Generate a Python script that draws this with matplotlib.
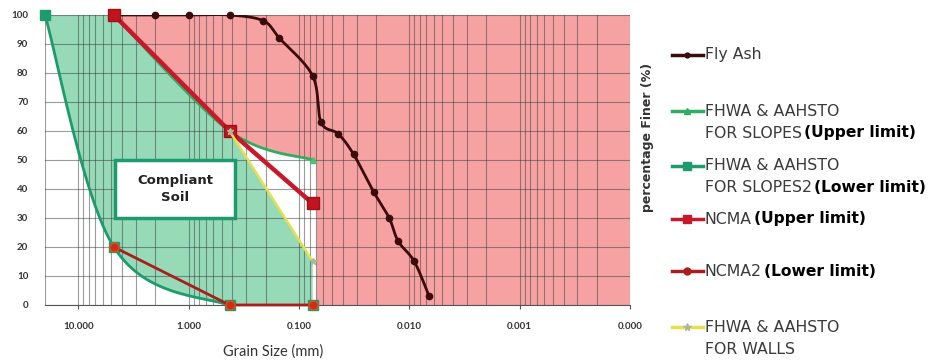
import matplotlib.pyplot as plt
import numpy as np
from matplotlib.lines import Line2D
from matplotlib.patches import Rectangle

plt.rcParams['font.family'] = ['Lato', 'DejaVu Sans']

# Gradation data: grain size (mm) vs percentage finer (%)
fly_ash_size = [4.75, 2.0, 1.0, 0.425, 0.21, 0.15, 0.075, 0.063, 0.044, 0.032,
                0.021, 0.0152, 0.0126, 0.009, 0.0066]
fly_ash_pct = [100, 100, 100, 100, 98, 92, 79, 63, 59, 52, 39, 30, 22, 15, 3]

slopes_upper_size = [4.75, 0.425, 0.075]
slopes_upper = [100, 60, 50]
slopes_lower_size = [20, 4.75, 0.425, 0.075]
slopes_lower = [100, 20, 0, 0]

ncma_size = [4.75, 0.425, 0.075]
ncma_upper = [100, 60, 35]
ncma_lower = [20, 0, 0]

walls_size = [0.425, 0.075]
walls_pct = [60, 15]

tick_values = [10, 1, 0.1, 0.01, 0.001, 0.0001]
tick_labels = ['10.000', '1.000', '0.100', '0.010', '0.001', '0.000']

fig = plt.figure(figsize=(9.29, 3.63), dpi=100)
ax = fig.add_axes([0.0484, 0.1598, 0.6297, 0.7989])
ax.set_xscale('log')
ax.set_xlim(20, 0.0001)
ax.set_ylim(0, 100)


def smooth(xs, ys, n=40):
    # Bezier smoothing done in screen space, like a spreadsheet "smoothed line"
    pts = ax.transData.transform(np.column_stack([xs, ys]))
    p = np.vstack([pts[0], pts, pts[-1]])
    t = np.linspace(0, 1, n)[:, None]
    segs = []
    for i in range(1, len(p) - 2):
        p0, p1, p2, p3 = p[i - 1], p[i], p[i + 1], p[i + 2]
        c1 = p1 + (p2 - p0) / 6
        c2 = p2 - (p3 - p1) / 6
        segs.append((1 - t) ** 3 * p1 + 3 * (1 - t) ** 2 * t * c1
                    + 3 * (1 - t) * t ** 2 * c2 + t ** 3 * p2)
    out = ax.transData.inverted().transform(np.vstack(segs))
    return out[:, 0], out[:, 1]


fa_x, fa_y = smooth(fly_ash_size, fly_ash_pct)
su_x, su_y = smooth(slopes_upper_size, slopes_upper)
sl_x, sl_y = smooth(slopes_lower_size, slopes_lower)

green = '#96dab8'
pink = '#f7a2a2'

# compliant zone
gx = np.concatenate([sl_x, walls_size[::-1], ncma_size[1::-1], [20]])
gy = np.concatenate([np.clip(sl_y, 0, 100), walls_pct[::-1], ncma_upper[1::-1], [100]])
ax.fill(gx, gy, color=green, lw=0, zorder=1)

# non-compliant zone
m = su_x <= 0.425
edge = 0.069
px = np.concatenate([ncma_size[:2], su_x[m], [edge, edge, 0.0001, 0.0001]])
py = np.concatenate([ncma_upper[:2], su_y[m], [50, 0, 0, 100]])
ax.fill(px, py, color=pink, lw=0, zorder=1)

ax.grid(True, which='both', axis='x', color='#3a3a3a', alpha=0.5, lw=0.8)
ax.grid(True, which='major', axis='y', color='#3a3a3a', alpha=0.5, lw=0.8)

# series
c_fa = '#3a0c0c'
c_su = '#2fae62'
c_sl = '#1e9b6c'
c_nu = '#c8182c'
c_nl = '#a81e1e'
c_w = '#e6e04c'

ax.plot(fa_x, fa_y, color=c_fa, lw=2, zorder=3)
ax.plot(fly_ash_size, fly_ash_pct, ls='none', marker='o', ms=4.5, color=c_fa, zorder=3, clip_on=False)

ax.plot(su_x, su_y, color=c_su, lw=2, zorder=3)
ax.plot(slopes_upper_size, slopes_upper, ls='none', marker='^', ms=5, color='#4cc070', zorder=3, clip_on=False)

ax.plot(sl_x, sl_y, color=c_sl, lw=2, zorder=3)
ax.plot(slopes_lower_size, slopes_lower, ls='none', marker='s', ms=7, color=c_sl, zorder=3, clip_on=False)

ax.plot(ncma_size, ncma_upper, color=c_nu, lw=3.2, marker='s', ms=8,
        mfc='#c0141e', mec='#a01010', zorder=4, clip_on=False)
ax.plot(ncma_size, ncma_lower, color=c_nl, lw=2, marker='o', ms=6.5,
        mfc='#c8301a', mec='#e05020', zorder=4, clip_on=False)
ax.plot(walls_size, walls_pct, color=c_w, lw=1.8, marker='*', ms=5,
        mfc='#a8b89a', mec='#a8b89a', zorder=5, clip_on=False)

ax.set_xticks(tick_values)
ax.set_xticklabels(tick_labels)
ax.set_yticks(range(0, 101, 10))
ax.tick_params(axis='x', which='major', labelsize=7, length=3, color='#555555', labelcolor='#333333', pad=9)
ax.tick_params(axis='x', which='minor', length=0)
ax.tick_params(axis='y', labelsize=7, length=0, labelcolor='#333333', pad=12)
for lab in ax.get_xticklabels() + ax.get_yticklabels():
    lab.set_fontweight('bold')
for s in ['top', 'right', 'left']:
    ax.spines[s].set_visible(False)
ax.spines['bottom'].set_color('#555555')

# label box inside the compliant zone
ax.add_patch(Rectangle((0.12, 0.30), 0.205, 0.20, transform=ax.transAxes,
                       facecolor='white', edgecolor='#1e9b6c', lw=2.5, zorder=6))
ax.text(0.2225, 0.40, 'Compliant\nSoil', transform=ax.transAxes, ha='center', va='center',
        fontsize=9.5, fontweight='bold', family='DejaVu Sans', color='#222222',
        linespacing=1.45, zorder=7)

fig.text(273 / 929, 1 - 352 / 363, 'Grain Size (mm)', ha='center', va='center',
         fontsize=10.5, color='#333333')
fig.text(648 / 929, 1 - 137 / 363, 'percentage Finer (%)', rotation=90,
         ha='center', va='center', fontsize=9, fontweight='bold',
         family='DejaVu Sans', color='#333333')

# legend drawn by hand on the right
legend = [
    (55, dict(color=c_fa, marker='o', ms=3.5), ['Fly Ash'], None),
    (111, dict(color=c_su, marker='^', ms=4.5), ['FHWA & AAHSTO', 'FOR SLOPES'], '(Upper limit)'),
    (166, dict(color=c_sl, marker='s', ms=5.5), ['FHWA & AAHSTO', 'FOR SLOPES2'], '(Lower limit)'),
    (219, dict(color=c_nu, marker='s', ms=6), ['NCMA'], '(Upper limit)'),
    (271, dict(color=c_nl, marker='o', ms=5), ['NCMA2'], '(Lower limit)'),
    (327, dict(color=c_w, marker='*', ms=5.5, mfc='#a8b89a', mec='#a8b89a'), ['FHWA & AAHSTO', 'FOR WALLS'], None),
]
for y, style, lines, extra in legend:
    yf = 1 - y / 363
    col = style['color']
    fig.add_artist(Line2D([672 / 929, 703 / 929], [yf, yf], lw=2.5, color=col,
                          transform=fig.transFigure))
    fig.add_artist(Line2D([687.5 / 929], [yf], lw=0, transform=fig.transFigure, **style))
    for k, txt in enumerate(lines):
        yy = 1 - (y + 22 * k) / 363
        t = fig.text(705 / 929, yy, txt, ha='left', va='center', fontsize=11.3,
                     family='DejaVu Sans', color='#3a3a3a')
    if extra:
        fig.canvas.draw()
        bb = t.get_window_extent()
        fig.text(bb.x1 / 929 + 0.002, yy, extra, ha='left', va='center',
                 fontsize=11.2, fontweight='bold', family='DejaVu Sans', color='black')

fig.savefig('out.png', dpi=100)
